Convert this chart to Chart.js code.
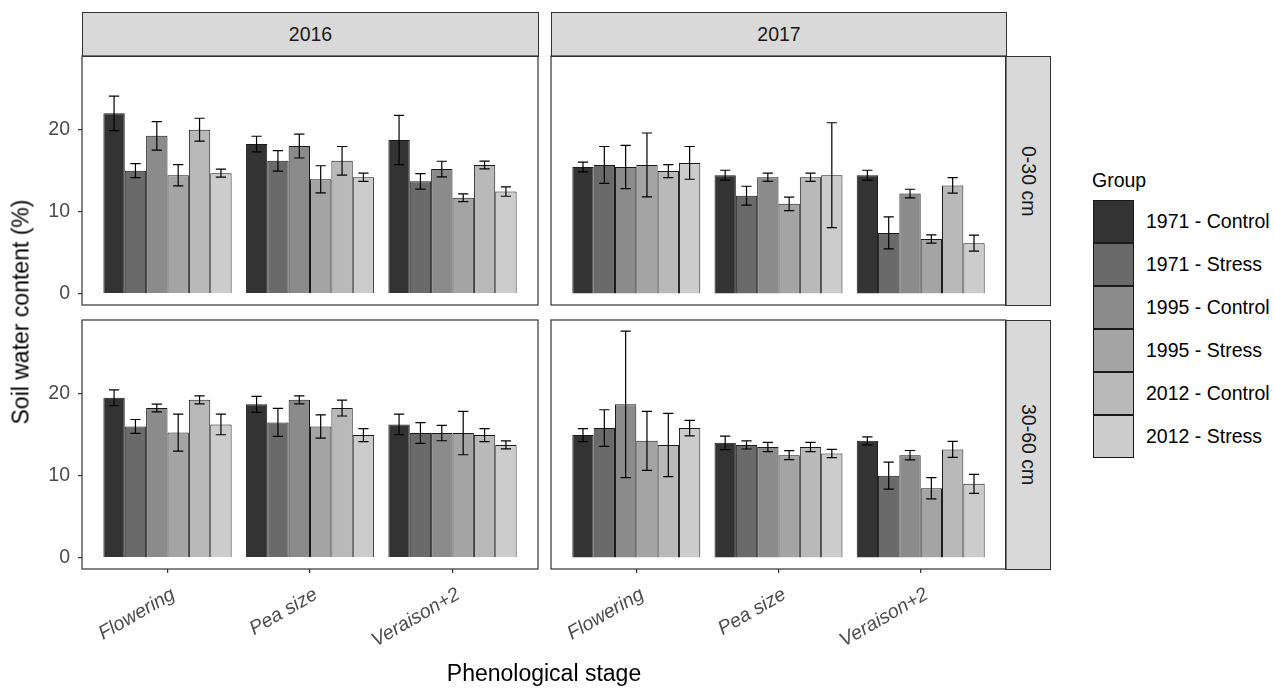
<!DOCTYPE html>
<html lang="en">
<head>
  <meta charset="UTF-8" />
  <title>Soil water content</title>
  <script src="https://cdn.jsdelivr.net/npm/chart.js@4"></script>
  <style>
    body { margin: 0; width: 1274px; height: 688px; position: relative; overflow: hidden; background: #fff;
           font-family: "Liberation Sans", Arial, sans-serif; }
    canvas { position: absolute; }
    .strip { position: absolute; box-sizing: border-box; background: #d9d9d9; border: 1px solid #333;
             color: #1a1a1a; font-size: 19.5px; display: flex; align-items: center; justify-content: center; }
    .strip.side span { writing-mode: vertical-rl; }
    .title { position: absolute; font-size: 23px; color: #000; white-space: nowrap; }
    .key { position: absolute; left: 1093px; width: 41px; height: 43px; box-sizing: border-box; border: 1px solid #1a1a1a; }
    .keylab { position: absolute; left: 1146px; font-size: 19.5px; line-height: 43px; color: #000; white-space: nowrap; }
  </style>
</head>
<body>
  <div class="strip" style="left:82px;top:12px;width:457px;height:45px;">2016</div>
  <div class="strip" style="left:551px;top:12px;width:456px;height:45px;">2017</div>
  <div class="strip side" style="left:1005px;top:56px;width:46px;height:250px;"><span>0-30 cm</span></div>
  <div class="strip side" style="left:1005px;top:320px;width:46px;height:250px;"><span>30-60 cm</span></div>

  <canvas id="p2016top" width="544" height="261" style="left:0px;top:50px;"></canvas>
  <canvas id="p2017top" width="467" height="261" style="left:545px;top:50px;"></canvas>
  <canvas id="p2016bot" width="544" height="374" style="left:0px;top:314px;"></canvas>
  <canvas id="p2017bot" width="467" height="374" style="left:545px;top:314px;"></canvas>

  <div class="title" style="left:21px;top:312px;transform:translate(-50%,-50%) rotate(-90deg);">Soil water content (%)</div>
  <div class="title" style="left:544px;top:673px;transform:translate(-50%,-50%);">Phenological stage</div>
  <div id="legend"></div>

  <script>
    const stages = ['Flowering', 'Pea size', 'Veraison+2'];
    const groups = ['1971 - Control', '1971 - Stress', '1995 - Control', '1995 - Stress', '2012 - Control', '2012 - Stress'];
    const greys = ['#333333', '#6a6a6a', '#8b8b8b', '#a4a4a4', '#b9b9b9', '#cccccc'];
    const yTicks = [0, 10, 20];

    // rows = stage, columns = group (mean and half error bar)
    const mean2016top = [[22.0, 15.0, 19.25, 14.45, 20.0, 14.7],
                         [18.25, 16.2, 18.0, 13.95, 16.2, 14.2],
                         [18.75, 13.7, 15.2, 11.7, 15.7, 12.45]];
    const err2016top = [[2.1, 0.85, 1.75, 1.3, 1.4, 0.5],
                        [0.95, 1.25, 1.45, 1.65, 1.75, 0.5],
                        [3.0, 0.95, 0.95, 0.47, 0.47, 0.57]];
    const mean2017top = [[15.45, 15.7, 15.45, 15.7, 14.95, 15.95],
                         [14.45, 11.95, 14.2, 10.95, 14.2, 14.45],
                         [14.45, 7.4, 12.2, 6.65, 13.2, 6.15]];
    const err2017top = [[0.6, 2.25, 2.65, 3.9, 0.8, 2.0],
                        [0.6, 1.15, 0.5, 0.82, 0.5, 6.4],
                        [0.6, 1.95, 0.53, 0.5, 0.95, 0.97]];
    const mean2016bot = [[19.5, 16.0, 18.25, 15.25, 19.25, 16.25],
                         [18.7, 16.5, 19.25, 16.0, 18.25, 14.95],
                         [16.25, 15.2, 15.2, 15.2, 14.95, 13.75]];
    const err2016bot = [[0.97, 0.85, 0.47, 2.26, 0.49, 1.26],
                        [0.97, 1.72, 0.49, 1.42, 0.97, 0.8],
                        [1.26, 1.26, 0.94, 2.65, 0.8, 0.49]];
    const mean2017bot = [[14.95, 15.8, 18.7, 14.25, 13.75, 15.8],
                         [14.0, 13.75, 13.5, 12.5, 13.5, 12.7],
                         [14.25, 10.0, 12.5, 8.45, 13.2, 9.0]];
    const err2017bot = [[0.8, 2.24, 8.95, 3.6, 3.86, 0.95],
                        [0.82, 0.5, 0.57, 0.55, 0.57, 0.5],
                        [0.49, 1.65, 0.57, 1.3, 0.98, 1.16]];

    // box round each panel
    const panelBox = {
      id: 'panelBox',
      afterDraw(chart) {
        const a = chart.chartArea, ctx = chart.ctx;
        ctx.save();
        ctx.strokeStyle = '#333';
        ctx.lineWidth = 1.2;
        ctx.strokeRect(a.left, a.top, a.right - a.left, a.bottom - a.top);
        ctx.restore();
      }
    };

    // error bars from the value scale
    const errorBars = {
      id: 'errorBars',
      afterDatasetsDraw(chart) {
        const ctx = chart.ctx, ys = chart.scales.y;
        ctx.save();
        ctx.strokeStyle = '#000';
        ctx.lineWidth = 1.2;
        chart.data.datasets.forEach((ds, j) => {
          chart.getDatasetMeta(j).data.forEach((bar, i) => {
            const d = ds.data[i];
            const top = ys.getPixelForValue(d.y + d.err);
            const bot = ys.getPixelForValue(d.y - d.err);
            const half = bar.width * 0.24;
            ctx.beginPath();
            ctx.moveTo(bar.x, top); ctx.lineTo(bar.x, bot);
            ctx.moveTo(bar.x - half, top); ctx.lineTo(bar.x + half, top);
            ctx.moveTo(bar.x - half, bot); ctx.lineTo(bar.x + half, bot);
            ctx.stroke();
          });
        });
        ctx.restore();
      }
    };

    function makePanel(id, means, errs, showX, showY) {
      const datasets = groups.map((g, j) => ({
        label: g,
        data: stages.map((s, i) => ({ x: i + 1, y: means[i][j], err: errs[i][j] })),
        backgroundColor: greys[j],
        borderColor: '#1a1a1a',
        borderWidth: 1,
        categoryPercentage: 0.9,
        barPercentage: 1.0
      }));
      const tickFont = { family: '"Liberation Sans", Arial, sans-serif', size: 19.5 };
      return new Chart(document.getElementById(id), {
        type: 'bar',
        data: { datasets },
        options: {
          responsive: false,
          animation: false,
          layout: { padding: { top: 6, right: 6, bottom: showX ? 0 : 6, left: showY ? 0 : 6 } },
          plugins: { legend: { display: false }, tooltip: { enabled: false } },
          scales: {
            x: {
              type: 'linear', min: 0.4, max: 3.6, offset: false, display: showX,
              afterBuildTicks: s => { s.ticks = stages.map((_, i) => ({ value: i + 1 })); },
              afterFit: s => {
                if (showX) s.height = 119;
                s.paddingLeft = 0; s.paddingRight = 0;
              },
              ticks: {
                autoSkip: false, minRotation: 30, maxRotation: 30, padding: 10, labelOffset: 6,
                color: '#4d4d4d', font: Object.assign({ style: 'italic' }, tickFont),
                callback: (v, i) => stages[i]
              },
              grid: { display: true, offset: false, drawOnChartArea: false, drawTicks: true, tickLength: 4, color: '#333', lineWidth: 1.2 },
              border: { display: false }
            },
            y: {
              type: 'linear', min: -1.4, max: 29.0, display: showY,
              afterBuildTicks: s => { s.ticks = yTicks.map(v => ({ value: v })); },
              afterFit: s => {
                if (showY) s.width = 82;
                s.paddingTop = 0; s.paddingBottom = 0;
              },
              ticks: { color: '#4d4d4d', font: tickFont, padding: 8 },
              grid: { display: true, drawOnChartArea: false, drawTicks: true, tickLength: 4, color: '#333', lineWidth: 1.2 },
              border: { display: false }
            }
          }
        },
        plugins: [errorBars, panelBox]
      });
    }

    makePanel('p2016top', mean2016top, err2016top, false, true);
    makePanel('p2017top', mean2017top, err2017top, false, false);
    makePanel('p2016bot', mean2016bot, err2016bot, true, true);
    makePanel('p2017bot', mean2017bot, err2017bot, true, false);

    // legend
    const legend = document.getElementById('legend');
    let html = '<div class="keylab" style="left:1092px;top:160px;line-height:40px;">Group</div>';
    groups.forEach((g, j) => {
      const top = 200 + j * 43;
      html += '<div class="key" style="top:' + top + 'px;background:' + greys[j] + ';"></div>';
      html += '<div class="keylab" style="top:' + top + 'px;">' + g + '</div>';
    });
    legend.innerHTML = html;
  </script>
</body>
</html>
